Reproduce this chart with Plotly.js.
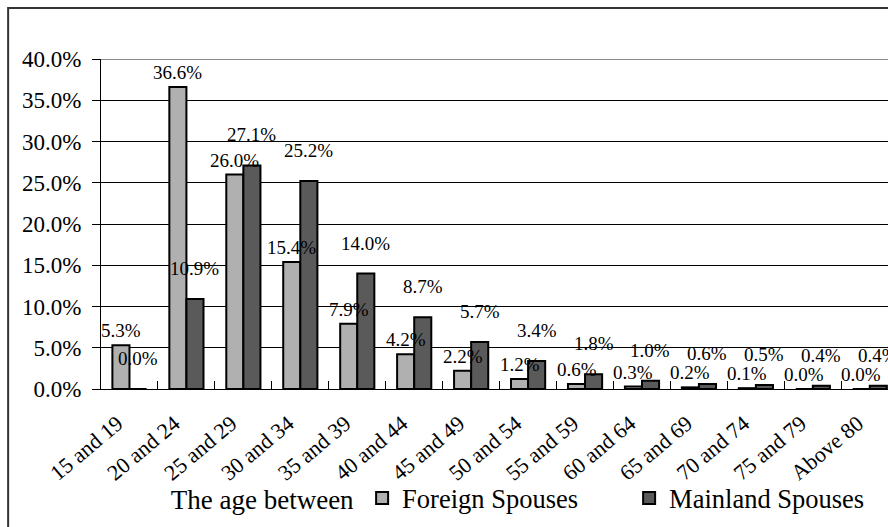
<!DOCTYPE html>
<html>
<head>
<meta charset="utf-8">
<script src="https://cdn.plot.ly/plotly-3.0.1.min.js"></script>
<style>
  html, body { margin: 0; padding: 0; overflow: hidden; background: #fff; }
  #chart { width: 888px; height: 527px; }
</style>
</head>
<body>
<div id="chart"></div>
<script>
const categories = ["15 and 19", "20 and 24", "25 and 29", "30 and 34", "35 and 39", "40 and 44", "45 and 49",
  "50 and 54", "55 and 59", "60 and 64", "65 and 69", "70 and 74", "75 and 79", "Above 80"];
const foreignSpouses = [5.3, 36.6, 26.0, 15.4, 7.9, 4.2, 2.2, 1.2, 0.6, 0.3, 0.2, 0.1, 0.0, 0.0];
const mainlandSpouses = [0.0, 10.9, 27.1, 25.2, 14.0, 8.7, 5.7, 3.4, 1.8, 1.0, 0.6, 0.5, 0.4, 0.4];
const seriesNames = ["Foreign Spouses", "Mainland Spouses"];
const legendTitle = "The age between";

const serif = "Liberation Serif, Times New Roman, serif";
const labelFont = { family: serif, size: 19, color: "#000" };

const traces = [
  {
    type: "bar", name: seriesNames[0], x: categories, y: foreignSpouses,
    marker: { color: "#b0b0b0", line: { color: "#000", width: 2 } },
    textposition: "none", hoverinfo: "skip"
  },
  {
    type: "bar", name: seriesNames[1], x: categories, y: mainlandSpouses,
    marker: { color: "#5a5a5a", line: { color: "#000", width: 2 } },
    textposition: "none", hoverinfo: "skip"
  }
];

// value labels, offset onto each bar of the group, mainland labels raised as in the reference
const annotations = [];
categories.forEach((c, i) => {
  annotations.push({ x: c, y: foreignSpouses[i], text: foreignSpouses[i].toFixed(1) + "%",
    xshift: -8.5, yshift: 2, yanchor: "bottom", showarrow: false, font: labelFont });
  annotations.push({ x: c, y: mainlandSpouses[i], text: mainlandSpouses[i].toFixed(1) + "%",
    xshift: 8.5, yshift: 18, yanchor: "bottom", showarrow: false, font: labelFont });
});

const layout = {
  width: 888, height: 527,
  margin: { l: 101, r: 0, t: 59, b: 138 },
  paper_bgcolor: "#fff", plot_bgcolor: "#fff",
  font: { family: serif, color: "#000" },
  barmode: "group", bargap: 0.4, bargroupgap: 0,
  showlegend: true,
  legend: {
    orientation: "h", xref: "container", yref: "container",
    x: 0.19, y: 0.1, xanchor: "left", yanchor: "top",
    bgcolor: "rgba(0,0,0,0)",
    title: { text: legendTitle, side: "left", font: { family: serif, size: 27, color: "#000" } },
    font: { family: serif, size: 26.5, color: "#000" },
    entrywidth: 222, traceorder: "normal", itemsizing: "constant"
  },
  annotations: annotations,
  xaxis: {
    type: "category", range: [-0.5, 13.32],
    showline: true, linecolor: "#000", linewidth: 1,
    ticks: "inside", tickson: "boundaries", ticklen: 8, tickcolor: "#000", tickwidth: 1,
    tickangle: -40, ticklabelstandoff: 12, ticklabelshift: -12,
    tickfont: { family: serif, size: 22, color: "#000" },
    showgrid: false, fixedrange: true
  },
  yaxis: {
    range: [0, 40], dtick: 5, tickformat: ".1f", ticksuffix: "%",
    showline: true, linecolor: "#000", linewidth: 1,
    ticks: "outside", ticklen: 8, tickcolor: "#000", ticklabelstandoff: 6,
    showgrid: true, gridcolor: "#000", gridwidth: 1, zeroline: false,
    tickfont: { family: serif, size: 23, color: "#000" }, fixedrange: true
  },
  shapes: [
    { type: "line", xref: "paper", yref: "y", x0: 0, x1: 1, y0: 40, y1: 40,
      line: { color: "#8a8a8a", width: 2 }, layer: "above" },
    { type: "rect", xref: "paper", yref: "paper", x0: -0.118, x1: 1.05, y0: -0.6, y1: 1.1545,
      line: { color: "#333", width: 2 }, fillcolor: "rgba(0,0,0,0)" }
  ]
};

Plotly.newPlot("chart", traces, layout, { staticPlot: true, displayModeBar: false });
</script>
</body>
</html>
